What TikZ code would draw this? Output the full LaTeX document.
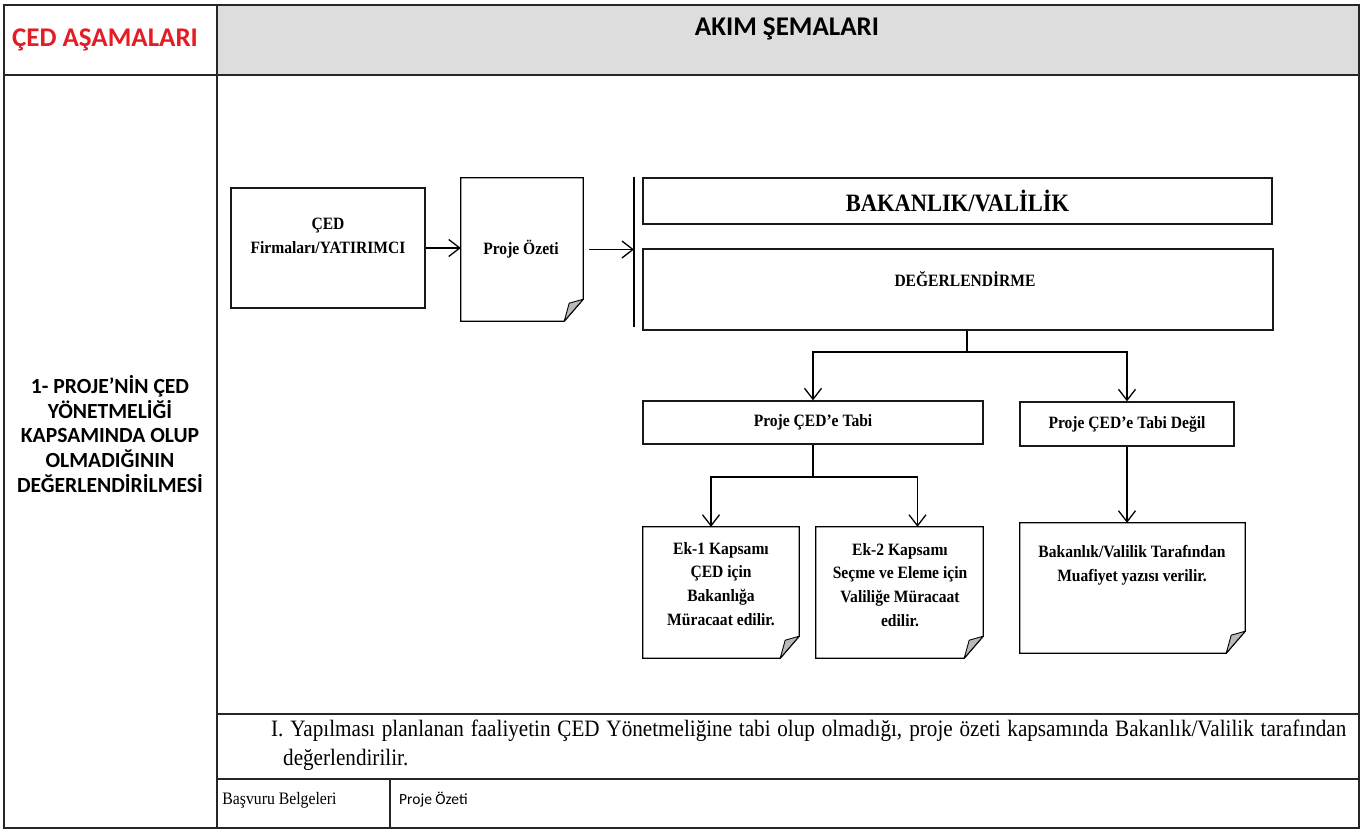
\documentclass[tikz,border=0pt]{standalone}
\usepackage{fontspec}
\setmainfont[FakeStretch=0.9]{Liberation Serif}
\newfontfamily\calibri{Carlito}
\usetikzlibrary{arrows.meta}

\definecolor{headgray}{RGB}{221,221,221}
\definecolor{cedred}{RGB}{228,28,36}
\definecolor{foldgray}{RGB}{185,185,185}

\tikzset{
  frameline/.style={line width=1.6pt, draw=black!85},
  link/.style={line width=1.3pt},
  arr/.style={link, ->},
  box/.style={draw=black!90, line width=1.3pt, rectangle, inner sep=0pt},
  doc/.style={rectangle, inner sep=0pt},
  boxtext/.style={font=\bfseries\fontsize{17.3}{23.8}\selectfont, align=center, inner sep=0pt},
  headtext/.style={font=\calibri\bfseries\fontsize{27}{30}\selectfont, inner sep=0pt},
  steptext/.style={font=\calibri\bfseries\fontsize{21.6}{24.6}\selectfont, align=center, inner sep=0pt},
}

% outline of a page with a turned-up corner, drawn round a named node
\newcommand\docshape[1]{%
  \draw[link, line join=miter] (#1.north west) -- (#1.north east) -- ([yshift=22pt]#1.south east)
    -- ([xshift=-19pt]#1.south east) -- (#1.south west) -- cycle;
  \filldraw[fill=foldgray, line width=0.9pt, line join=round] ([yshift=22pt]#1.south east)
    -- ([xshift=-19pt]#1.south east) -- ([xshift=-14pt,yshift=18pt]#1.south east) -- cycle;}

\begin{document}
\begin{tikzpicture}[x=1pt,y=-1pt,>={Straight Barb[length=11pt,width=17pt]}]
    \useasboundingbox (0,0) rectangle (1366,832);
    %% table
    \fill[headgray] (217,5) rectangle (1359,75);
    \draw[frameline] (4,5) rectangle (1359,828);
    \draw[frameline] (4,75) -- (1359,75);
    \draw[frameline] (217,5) -- (217,828);
    \draw[frameline] (217,714) -- (1359,714);
    \draw[frameline] (217,779) -- (1359,779);
    \draw[frameline] (390,779) -- (390,828);
    \node[headtext, text=cedred] (asama) at (105,40) {ÇED AŞAMALARI};
    \node[headtext] (akim) at (787,29) {AKIM ŞEMALARI};
    \node[steptext] (adim) at (110,434) {1- PROJE’NİN ÇED\\YÖNETMELİĞİ\\KAPSAMINDA OLUP\\OLMADIĞININ\\DEĞERLENDİRİLMESİ};
    %% flow
    \node[box, minimum width=194, minimum height=120] (firma) at (328,248) {};
    \node[boxtext] (firma-t) at (328,236) {ÇED\\Firmaları/YATIRIMCI};
    \node[doc, minimum width=122, minimum height=143] (ozet) at (522,249.5) {};
    \node[boxtext] (ozet-t) at (521,249) {Proje Özeti};
    \coordinate (bar-top) at (634,177);
    \coordinate (bar-bot) at (634,327);
    \node[box, minimum width=629, minimum height=46, font=\bfseries\fontsize{25}{28}\selectfont] (bakan) at (957.5,201) {BAKANLIK/VALİLİK};
    \node[box, minimum width=630, minimum height=81] (deger) at (958,289.5) {};
    \node[boxtext] (deger-t) at (965,279) {DEĞERLENDİRME};
    \coordinate (s1) at (967,352);
    \node[box, minimum width=340, minimum height=43, boxtext] (tabi) at (813,422.5) {Proje ÇED’e Tabi};
    \node[box, minimum width=214, minimum height=44, boxtext] (degil) at (1127,424) {Proje ÇED’e Tabi Değil};
    \coordinate (s2) at (813,477);
    \node[doc, minimum width=156, minimum height=131] (ek1) at (721,592.5) {};
    \node[boxtext] (ek1-t) at (721,584) {Ek-1 Kapsamı\\ÇED için\\Bakanlığa\\Müracaat edilir.};
    \node[doc, minimum width=167, minimum height=131] (ek2) at (899.5,592.5) {};
    \node[boxtext] (ek2-t) at (900,585) {Ek-2 Kapsamı\\Seçme ve Eleme için\\Valiliğe Müracaat\\edilir.};
    \node[doc, minimum width=225, minimum height=130] (muaf) at (1132.5,588) {};
    \node[boxtext] (muaf-t) at (1132,565) {Bakanlık/Valilik Tarafından\\Muafiyet yazısı verilir.};
    \docshape{ozet}
    \docshape{ek1}
    \docshape{ek2}
    \docshape{muaf}
    \draw[link] (bar-top) -- (bar-bot);
    \draw[arr] (firma.east) -- (firma.east -| ozet.west);
    \draw[arr] ([xshift=6pt]ozet.east) -- (ozet.east -| bar-top);
    \draw[link] (deger.south -| s1) -- (s1);
    \draw[arr] (s1) -| (tabi.north);
    \draw[arr] (s1) -| (degil.north);
    \draw[link] (tabi) -- (s2);
    \draw[arr] (s2) -| ([xshift=-10pt]ek1.north);
    \draw[arr] (s2) -| ([xshift=18pt]ek2.north);
    \draw[arr] (degil) -- (degil |- muaf.north);
    %% note rows
    \node[anchor=west, inner sep=0pt, font=\fontsize{23.5}{28}\selectfont] (not1) at (271,731)
      {\makebox[1075pt][s]{I. Yapılması planlanan faaliyetin ÇED Yönetmeliğine tabi olup olmadığı, proje özeti kapsamında Bakanlık/Valilik tarafından}};
    \node[anchor=west, inner sep=0pt, font=\fontsize{23.5}{28}\selectfont] (not2) at (283,760) {değerlendirilir.};
    \node[inner sep=0pt, font=\fontsize{17.5}{20}\selectfont] (basvuru) at (279.5,800) {Başvuru Belgeleri};
    \node[anchor=west, inner sep=0pt, font=\calibri\fontsize{15.5}{18}\selectfont] (belge) at (399,800) {Proje Özeti};
\end{tikzpicture}
\end{document}
